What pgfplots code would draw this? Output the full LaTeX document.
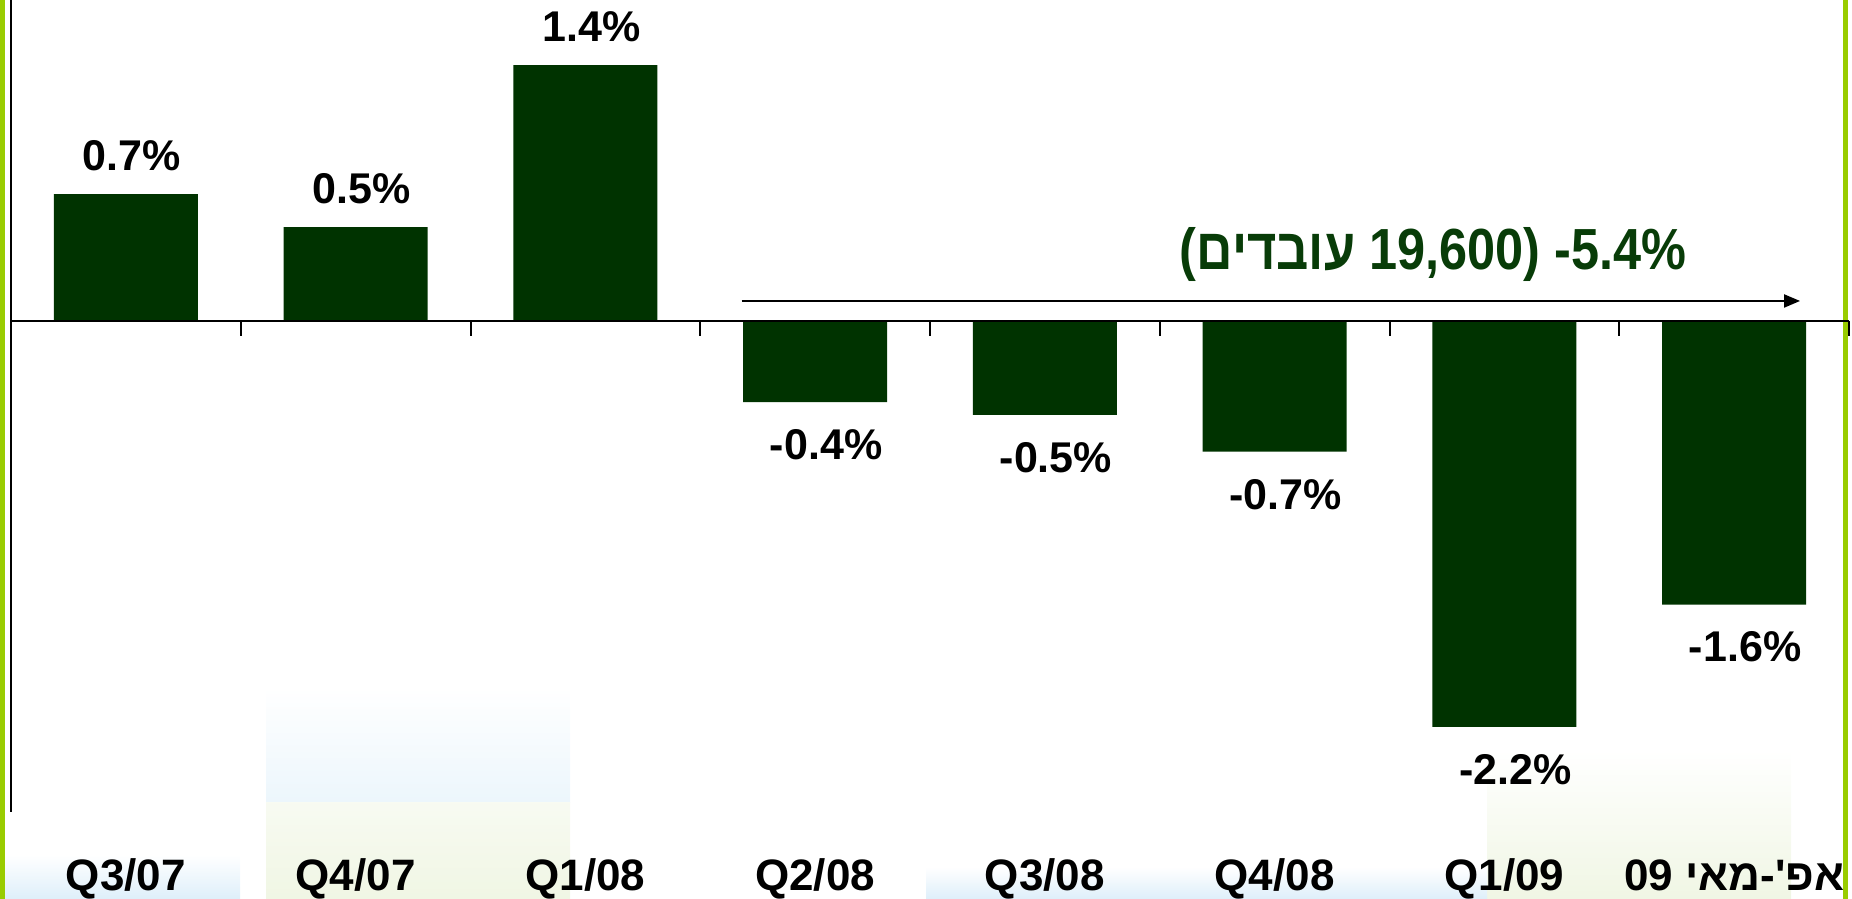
\documentclass[border=0pt]{standalone}
\usepackage{fontspec}
\setmainfont{Liberation Sans}
\newfontfamily\hebfont[Script=Hebrew]{Liberation Sans}
\newfontfamily\narrowheb[Script=Hebrew,FakeStretch=0.87]{Liberation Sans}
\newfontfamily\narrowlat[FakeStretch=0.87]{Liberation Sans}
\usepackage{pgfplots}
\pgfplotsset{compat=1.18}
\usepackage{pgfplotstable}
\usetikzlibrary{arrows.meta}
\TeXXeTstate=1
\definecolor{barg}{RGB}{0,51,0}
\definecolor{txtg}{RGB}{8,60,8}
\definecolor{limeg}{RGB}{153,204,0}
\definecolor{bgblue}{RGB}{236,246,252}
\definecolor{bggreen}{RGB}{240,246,228}
\definecolor{bgblue2}{RGB}{222,239,250}

\pgfplotstableread{
x y lab
0 0.69 0.7
1 0.51 0.5
2 1.39 1.4
}\posdata
\pgfplotstableread{
x y lab
3 -0.44 -0.4
4 -0.51 -0.5
5 -0.71 -0.7
6 -2.205 -2.2
7 -1.54 -1.6
}\negdata

\begin{document}
\begin{tikzpicture}
\useasboundingbox (0,0) rectangle (926pt,449.5pt);
% faint background remnants
\shade[top color=white, bottom color=bgblue] (133pt,48pt) rectangle (285pt,106pt);
\shade[top color=bggreen!50, bottom color=bggreen] (133pt,0pt) rectangle (285pt,48pt);
\shade[top color=white, bottom color=bggreen] (743.5pt,0pt) rectangle (895.5pt,74.5pt);
\shade[top color=white, bottom color=bgblue2] (2.5pt,0pt) rectangle (120pt,22pt);
\shade[top color=white, bottom color=bgblue2] (463pt,0pt) rectangle (743.5pt,16pt);
\fill[limeg] (0,0) rectangle (2.5pt,449.5pt);
\fill[limeg] (921.5pt,0) rectangle (924pt,449.5pt);
\begin{axis}[
  at={(5.5pt,43.5pt)}, anchor=south west,
  scale only axis, width=919pt, height=406pt,
  xmin=-0.5, xmax=7.5, ymin=-2.667, ymax=1.744,
  axis x line*=bottom, axis y line*=left,
  x axis line style={draw=none},
  y axis line style={line width=1pt},
  ytick=\empty,
  xtick={0,...,7},
  xticklabels={Q3/07,Q4/07,Q1/08,Q2/08,Q3/08,Q4/08,Q1/09,{\hebfont\beginR אפ'-מאי \beginL09\endL\endR}},
  major tick length=0pt,
  xticklabel style={font=\bfseries\fontsize{22}{26}\selectfont, anchor=base, yshift=-39.5pt},
  ybar, bar width=0.627,
  clip=false,
]
\addplot[fill=barg, draw=none, bar shift=0pt,
  point meta=explicit symbolic,
  nodes near coords={\pgfplotspointmeta\%},
  nodes near coords style={font=\bfseries\fontsize{21.5}{26}\selectfont, anchor=base, yshift=11.8pt, xshift=3pt, text=black}]
  table[x=x,y=y,meta=lab]{\posdata};
\addplot[fill=barg, draw=none, bar shift=0pt,
  point meta=explicit symbolic,
  nodes near coords={\pgfplotspointmeta\%},
  nodes near coords style={font=\bfseries\fontsize{21.5}{26}\selectfont, anchor=base, yshift=-28.7pt, xshift=5.5pt, text=black}]
  table[x=x,y=y,meta=lab]{\negdata};
\draw[line width=1pt] (axis cs:-0.5,0) -- (axis cs:7.5,0);
\pgfplotsinvokeforeach{0.5,1.5,2.5,3.5,4.5,5.5,6.5,7.5}{\draw[line width=1pt] (axis cs:#1,0) -- ++(0pt,-7.5pt);}
\draw[-{Triangle[length=8pt,width=6.5pt]}, line width=1pt] (axis cs:2.68,0.109) -- (axis cs:7.287,0.109);
\node[font=\narrowlat\bfseries\fontsize{29}{34}\selectfont, text=txtg] at (axis cs:5.69,0.36) {(\beginR{\narrowheb\bfseries עובדים}\endR\ 19,600) -5.4\%};
\end{axis}
\end{tikzpicture}
\end{document}
